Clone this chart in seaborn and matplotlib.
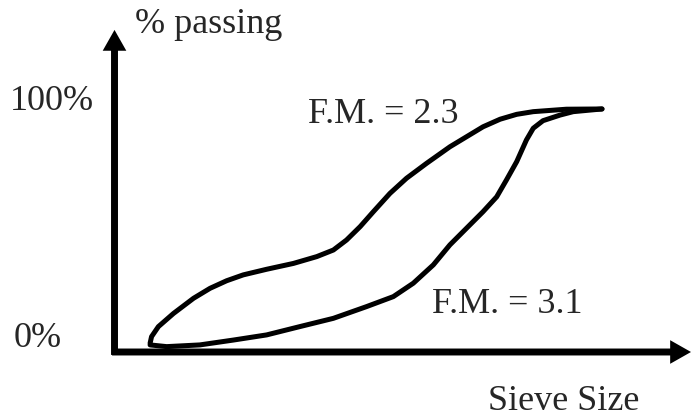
"""
Schematic grading curves: % passing vs sieve size for two fineness moduli.
"""

import matplotlib
matplotlib.use("Agg")
import matplotlib.pyplot as plt
import pandas as pd
import seaborn as sns

# Curve for F.M. = 2.3 (finer sand)
fm23_size = [7.3, 7.6, 9.0, 12.1, 16.2, 19.6, 23.0, 26.4, 31.2, 36.7, 41.5,
             44.9, 47.6, 50.4, 53.1, 56.5, 59.9, 64.0, 68.8, 72.2, 75.6,
             79.1, 82.5, 85.9, 92.7, 100.0]
fm23_pass = [3.6, 6.3, 10.4, 15.8, 22.0, 26.1, 29.2, 31.6, 33.9, 36.3, 39.1,
             41.8, 45.9, 51.4, 57.5, 65.0, 71.2, 77.3, 84.1, 88.2, 92.3,
             95.4, 97.4, 98.5, 99.5, 99.6]

# Curve for F.M. = 3.1 (coarser sand)
fm31_size = [7.3, 10.7, 17.5, 24.4, 31.2, 38.0, 44.9, 51.7, 57.2, 61.3, 65.4,
             68.8, 72.2, 75.6, 78.4, 80.4, 82.5, 84.5, 85.9, 87.9, 91.4,
             94.1, 100.0]
fm31_pass = [2.9, 2.2, 2.9, 4.9, 7.0, 10.4, 13.8, 18.6, 22.7, 28.2, 35.7,
             43.9, 50.7, 57.5, 63.6, 70.5, 78.0, 86.9, 91.7, 94.8, 97.1,
             98.5, 99.6]

curve_labels = ["F.M. = 2.3", "F.M. = 3.1"]
y_labels = ["0%", "100%"]
y_title = "% passing"
x_title = "Sieve Size"

df = pd.concat([
    pd.DataFrame({"size": fm23_size, "passing": fm23_pass, "curve": curve_labels[0]}),
    pd.DataFrame({"size": fm31_size, "passing": fm31_pass, "curve": curve_labels[1]}),
], ignore_index=True)

sns.set_style("white")
plt.rcParams["font.family"] = ["Liberation Serif", "DejaVu Serif"]

fig = plt.figure(figsize=(6.91, 4.19), dpi=100)
ax = fig.add_axes([0, 0, 1, 1])

sns.lineplot(data=df, x="size", y="passing", units="curve", estimator=None,
             sort=False, color="black", lw=3.6, legend=False, ax=ax,
             solid_capstyle="round", solid_joinstyle="round")

ax.set_xlim(-23.49, 118.26)
ax.set_ylim(-27.46, 144.26)
ax.axis("off")

# Axis arrows
arrow_style = "simple,head_length=15,head_width=17,tail_width=5"
ax.annotate("", xy=(118.26, 0), xytext=(-0.5, 0),
            arrowprops=dict(arrowstyle=arrow_style, mutation_scale=1,
                            fc="black", ec="none", lw=0, shrinkA=0, shrinkB=0))
ax.annotate("", xy=(0, 132.0), xytext=(0, -1.2),
            arrowprops=dict(arrowstyle=arrow_style, mutation_scale=1,
                            fc="black", ec="none", lw=0, shrinkA=0, shrinkB=0))

fs = 26
ax.text(39.7, 93.9, curve_labels[0], fontsize=fs, va="baseline")
ax.text(65.1, 16.0, curve_labels[1], fontsize=fs, va="baseline")
ax.text(4.2, 130.7, y_title, fontsize=fs, va="baseline")
ax.text(-21.4, 99.2, y_labels[1], fontsize=fs, va="baseline")
ax.text(-20.6, 2.0, y_labels[0], fontsize=fs, va="baseline")
ax.text(76.6, -23.8, x_title, fontsize=fs, va="baseline")

plt.savefig("out.png", dpi=100)
